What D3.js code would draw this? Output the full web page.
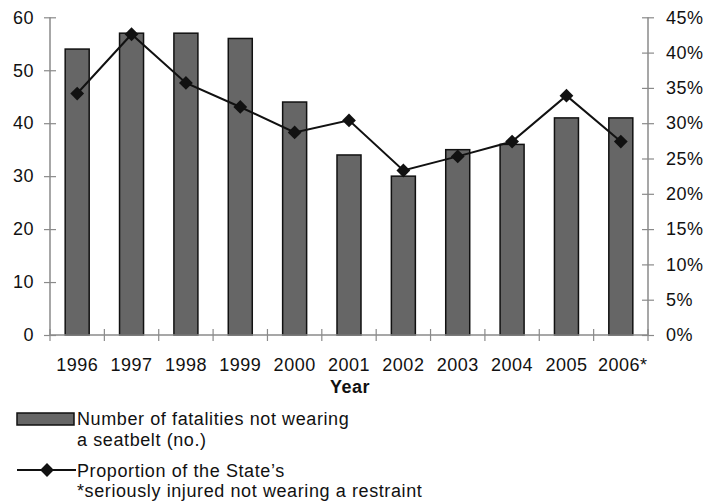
<!DOCTYPE html>
<html><head><meta charset="utf-8">
<script src="https://cdn.jsdelivr.net/npm/d3@7"></script>
<style>body{margin:0;background:#fff}svg{display:block;font-family:"Liberation Sans",Arial,sans-serif}</style>
</head><body><svg id="c" width="722" height="504"></svg>
<script>
const years = ["1996","1997","1998","1999","2000","2001","2002","2003","2004","2005","2006*"];
const fatalities = [54,57,57,56,44,34,30,35,36,41,41];
const proportion = [0.342,0.426,0.357,0.323,0.287,0.304,0.233,0.253,0.274,0.339,0.274];
const leftTicks = [0,10,20,30,40,50,60];
const rightTicks = [0,0.05,0.10,0.15,0.20,0.25,0.30,0.35,0.40,0.45];

const svg = d3.select("#c");
const L=50,R=648,T=17.3,B=335;
const xc = d3.scaleBand().domain(years).range([L,R]);
const y = d3.scaleLinear().domain([0,60]).range([B,T]);
const y2 = d3.scaleLinear().domain([0,0.45]).range([B,T]);
const axisCol="#8a8a8a";
const FS=18, LS="0.5px";

// bars
svg.selectAll("rect.bar").data(years).enter().append("rect")
  .attr("x",d=>xc(d)+xc.bandwidth()/2-12).attr("width",24)
  .attr("y",(d,i)=>y(fatalities[i])).attr("height",(d,i)=>B-y(fatalities[i]))
  .attr("fill","#666").attr("stroke","#111").attr("stroke-width",1.5);

// left axis
const gl = svg.append("g").attr("transform",`translate(${L},0)`)
  .call(d3.axisLeft(y).tickValues(leftTicks).tickSize(6).tickPadding(10));
gl.selectAll(".tick line").attr("x2",6).attr("x1",-6);
// right axis
const gr = svg.append("g").attr("transform",`translate(${R},0)`)
  .call(d3.axisRight(y2).tickValues(rightTicks).tickFormat(d3.format(".0%")).tickSize(6).tickPadding(12));
gr.selectAll(".tick line").attr("x1",-6).attr("x2",6);
// bottom axis
const gb = svg.append("g").attr("transform",`translate(0,${B})`)
  .call(d3.axisBottom(xc).tickSize(0).tickPadding(23));
gb.selectAll(".tick text").attr("dx", d=> d==="2006*"? 2:0);
const bounds = years.map(d=>xc(d)).concat([R]);
svg.append("g").selectAll("line").data(bounds).enter().append("line")
  .attr("x1",d=>d).attr("x2",d=>d).attr("y1",B-6).attr("y2",B+6)
  .attr("stroke",axisCol).attr("stroke-width",1.2);

[gl,gr,gb].forEach(g=>{
  g.selectAll(".domain").attr("stroke",axisCol).attr("stroke-width",1.5);
  g.selectAll(".tick line").attr("stroke",axisCol).attr("stroke-width",1.2);
  g.selectAll("text").attr("font-size",FS).attr("letter-spacing",LS).attr("fill","#111").attr("font-family","Liberation Sans, Arial, sans-serif");
});
gl.select(".domain").attr("d",`M0,${T}V${B}`);
gr.select(".domain").attr("d",`M0,${T}V${B}`);
gb.select(".domain").attr("d",`M${L},0H${R}`);

// line
const line = d3.line().x((d,i)=>xc(years[i])+xc.bandwidth()/2).y(d=>y2(d));
svg.append("path").datum(proportion).attr("d",line).attr("fill","none").attr("stroke","#111").attr("stroke-width",2);
svg.selectAll("path.m").data(proportion).enter().append("path")
  .attr("transform",(d,i)=>`translate(${xc(years[i])+xc.bandwidth()/2},${y2(d)}) rotate(45)`)
  .attr("d",d3.symbol().type(d3.symbolSquare).size(95)).attr("fill","#111");

// axis title
svg.append("text").attr("x",350).attr("y",393).attr("text-anchor","middle")
  .attr("font-size",FS).attr("letter-spacing",LS).attr("font-weight","bold").attr("fill","#111").text("Year");

// legend
const lg = svg.append("g").attr("font-size",FS).attr("letter-spacing","0.6px").attr("fill","#111");
lg.append("rect").attr("x",17).attr("y",413).attr("width",57).attr("height",12)
  .attr("fill","#666").attr("stroke","#111").attr("stroke-width",1.5);
lg.append("text").attr("x",77).attr("y",425).text("Number of fatalities not wearing");
lg.append("text").attr("x",77).attr("y",446).text("a seatbelt (no.)");
lg.append("line").attr("x1",17).attr("x2",76).attr("y1",470).attr("y2",470).attr("stroke","#111").attr("stroke-width",2);
lg.append("path").attr("transform","translate(47,470) rotate(45)").attr("d",d3.symbol().type(d3.symbolSquare).size(95)).attr("fill","#111");
lg.append("text").attr("x",77).attr("y",477).text("Proportion of the State\u2019s");
lg.append("text").attr("x",77).attr("y",497).text("*seriously injured not wearing a restraint");
</script></body></html>
